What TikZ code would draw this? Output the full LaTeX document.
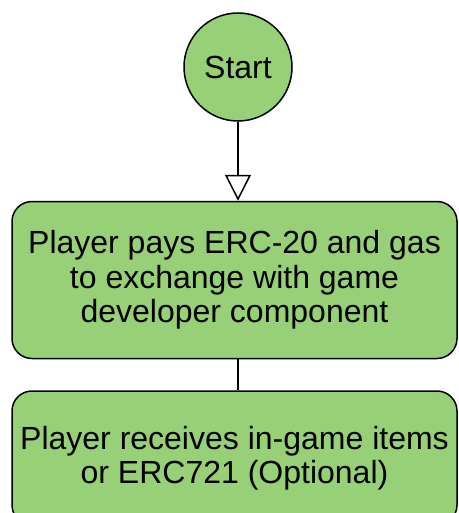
\documentclass[tikz,border=0pt]{standalone}
\usepackage{fontspec}
\setmainfont{Liberation Sans}
\usepackage{tikz}
\usetikzlibrary{arrows.meta,positioning}
\definecolor{Leaf}{HTML}{97D077}
\definecolor{Ink}{HTML}{000000}
\tikzset{
  startnode/.style={circle,draw=Ink,line width=1.5pt,fill=Leaf,minimum size=108pt,inner sep=0pt,text=Ink,font=\fontsize{32}{34.5}\selectfont},
  flowgreen/.style={draw=Ink,line width=1.5pt,rounded corners=20pt,fill=Leaf,minimum width=445pt,align=center,text=Ink,font=\fontsize{32}{34.5}\selectfont},
  openArrow/.style={-{Triangle[open,fill=white,length=26pt,width=26pt]},line width=1.5pt,draw=Ink},
  plainLine/.style={line width=1.5pt,draw=Ink}
}
\begin{document}
\begin{tikzpicture}[x=1pt,y=1pt,node distance=79pt and 5pt]
\useasboundingbox (0,0) rectangle (458,-513);
\node[startnode] (start) at (238,-67) {Start};
\node[flowgreen,minimum height=157pt,below=of start,xshift=-3.5pt] (pay) {Player pays ERC-20 and gas\\to exchange with game\\developer component};
\node[flowgreen,minimum height=134pt,below=31pt of pay] (receive) {Player receives in-game items\\or ERC721 (Optional)};
\draw[openArrow] (start.south) -- (start.south |- pay.north);
\draw[plainLine] (start.south |- pay.south) -- (start.south |- receive.north);
\end{tikzpicture}
\end{document}
